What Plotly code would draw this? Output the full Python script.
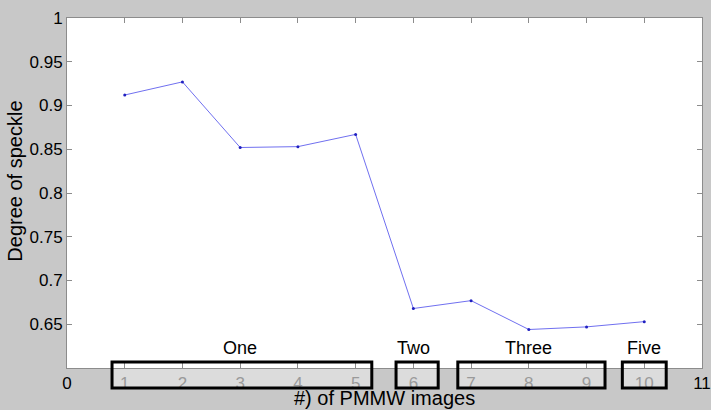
import plotly.graph_objects as go

x_vals = [1, 2, 3, 4, 5, 6, 7, 8, 9, 10]
speckle = [0.912, 0.927, 0.852, 0.853, 0.867, 0.668, 0.677, 0.644, 0.647, 0.653]

x_ticks = [0, 1, 2, 3, 4, 5, 6, 7, 8, 9, 10, 11]
y_ticks = [0.6, 0.65, 0.7, 0.75, 0.8, 0.85, 0.9, 0.95, 1.0]
y_tick_text = ["", "0.65", "0.7", "0.75", "0.8", "0.85", "0.9", "0.95", "1"]

group_names = ["One", "Two", "Three", "Five"]
group_label_x = [3, 6, 8, 10]
group_box_x0 = [0.78, 5.70, 6.77, 9.62]
group_box_x1 = [5.28, 6.43, 9.32, 10.38]

x_tick_text = []
for v in x_ticks:
    if v in (0, 11):
        x_tick_text.append(str(v))
    else:
        x_tick_text.append('<span style="color:#9a9a9a">%d</span>' % v)

fig = go.Figure()
fig.add_trace(go.Scatter(
    x=x_vals, y=speckle, mode="lines+markers",
    line=dict(color="#7070f0", width=1),
    marker=dict(color="#2020c0", size=3),
    showlegend=False,
))

shapes = []
annotations = []
for name, lx, x0, x1 in zip(group_names, group_label_x, group_box_x0, group_box_x1):
    shapes.append(dict(type="rect", xref="x", yref="paper", x0=x0, x1=x1,
                       y0=-0.057, y1=0.0, fillcolor="#dcdcdc",
                       line=dict(width=0), layer="below"))
    shapes.append(dict(type="rect", xref="x", yref="paper", x0=x0, x1=x1,
                       y0=-0.057, y1=0.017, fillcolor="rgba(0,0,0,0)",
                       line=dict(color="black", width=3), layer="above"))
    annotations.append(dict(x=lx, y=0.057, xref="x", yref="paper", text=name,
                            showarrow=False, xanchor="center", yanchor="middle",
                            font=dict(size=18, color="black",
                                      family="Liberation Sans, Arial, sans-serif")))

annotations.append(dict(x=0.5, y=-0.086, xref="paper", yref="paper",
                        text="#) of PMMW images", showarrow=False,
                        xanchor="center", yanchor="middle",
                        font=dict(size=20, color="black",
                                  family="Liberation Sans, Arial, sans-serif")))
annotations.append(dict(x=-0.082, y=0.535, xref="paper", yref="paper",
                        text="Degree of speckle", showarrow=False, textangle=-90,
                        xanchor="center", yanchor="middle",
                        font=dict(size=20, color="black",
                                  family="Liberation Sans, Arial, sans-serif")))

fig.update_layout(
    width=711, height=410,
    margin=dict(l=67, r=9, t=18, b=42),
    paper_bgcolor="#c8c8c8",
    plot_bgcolor="white",
    shapes=shapes,
    annotations=annotations,
    font=dict(family="Liberation Sans, Arial, sans-serif", size=17, color="black"),
    xaxis=dict(range=[0, 11], tickmode="array", tickvals=x_ticks,
               ticktext=x_tick_text, ticks="inside", ticklen=5,
               tickcolor="#8c8c8c", showline=True, linecolor="#8c8c8c",
               linewidth=1, mirror="allticks", showgrid=False, zeroline=False,
               automargin=False, tickfont=dict(size=17)),
    yaxis=dict(range=[0.6, 1.0], tickmode="array", tickvals=y_ticks,
               ticktext=y_tick_text, ticks="inside", ticklen=5,
               tickcolor="#8c8c8c", showline=True, linecolor="#8c8c8c",
               linewidth=1, mirror="allticks", showgrid=False, zeroline=False,
               automargin=False, tickfont=dict(size=17)),
)

fig.write_html("out.html")
